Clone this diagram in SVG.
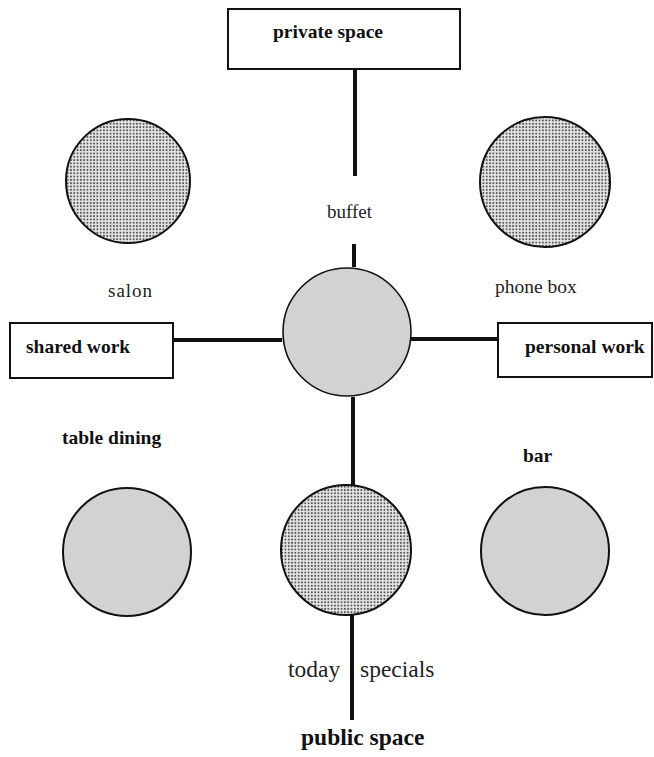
<svg xmlns="http://www.w3.org/2000/svg" width="654" height="757" viewBox="0 0 654 757">
<style>
.box{fill:#fff;stroke:#111;stroke-width:2}
.dot{fill:url(#dots);stroke:#111;stroke-width:2}
.grey{fill:#d2d2d2;stroke:#111;stroke-width:2}
.conn{stroke:#111;stroke-width:4;fill:none}
.b{font-family:"Liberation Serif","Times New Roman",serif;font-weight:bold;font-size:19.5px;fill:#111}
.n{font-family:"Liberation Serif","Times New Roman",serif;font-size:19px;fill:#222}
</style>
<defs>
<pattern id="dots" width="3.3" height="3.3" patternUnits="userSpaceOnUse">
<rect width="3.3" height="3.3" fill="#e8e8e8"/>
<circle cx="1.65" cy="1.65" r="1.05" fill="#555"/>
</pattern>
</defs>
<g id="connectors">
<line class="conn" x1="355" y1="69" x2="355" y2="176"/>
<line class="conn" x1="354" y1="244" x2="354" y2="267"/>
<line class="conn" x1="173" y1="340" x2="282" y2="340"/>
<line class="conn" x1="411" y1="339" x2="498" y2="339"/>
<line class="conn" x1="353" y1="397" x2="353" y2="485"/>
<line class="conn" x1="352" y1="615" x2="352" y2="720"/>
</g>
<g id="private-space">
<rect class="box" x="228" y="9" width="232" height="60"/>
<text class="b" x="273" y="38">private space</text>
</g>
<g id="shared-work">
<rect class="box" x="10" y="323" width="163" height="55"/>
<text class="b" x="26" y="353">shared work</text>
</g>
<g id="personal-work">
<rect class="box" x="498" y="323" width="154" height="54"/>
<text class="b" x="525" y="353">personal work</text>
</g>
<g id="salon">
<circle class="dot" cx="128" cy="181" r="62"/>
<text class="n" x="108" y="297" fill="#444" letter-spacing="1">salon</text>
</g>
<g id="phone-box">
<circle class="dot" cx="545" cy="182" r="65"/>
<text class="n" x="495" y="293" style="font-size:19.5px">phone box</text>
</g>
<g id="buffet">
<text class="n" x="327" y="218">buffet</text>
</g>
<g id="center">
<circle class="grey" cx="347" cy="332" r="64" style="stroke-width:1.6"/>
</g>
<g id="table-dining">
<text class="b" x="62" y="444">table dining</text>
<circle class="grey" cx="127" cy="552" r="64"/>
</g>
<g id="today-specials">
<circle class="dot" cx="346" cy="550" r="65"/>
<text class="n" x="288" y="677" style="font-size:23.5px">today</text>
<text class="n" x="360" y="677" style="font-size:23.5px">specials</text>
</g>
<g id="bar">
<text class="b" x="523" y="462">bar</text>
<circle class="grey" cx="545" cy="551" r="64"/>
</g>
<g id="public-space">
<text class="b" x="301" y="745" style="font-size:23.5px">public space</text>
</g>
</svg>
